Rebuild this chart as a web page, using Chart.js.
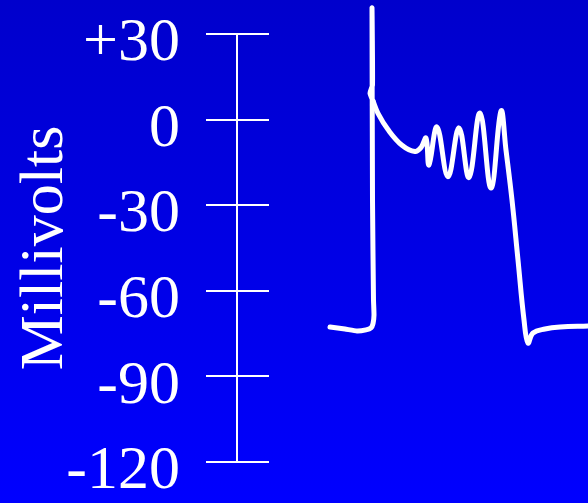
<!DOCTYPE html>
<html>
<head>
<meta charset="utf-8">
<script src="https://cdn.jsdelivr.net/npm/chart.js@4/dist/chart.umd.min.js"></script>
<style>
  html, body { margin: 0; padding: 0; }
  body { width: 588px; height: 503px; background: linear-gradient(#0000cc, #0000ff); overflow: hidden; }
  canvas { display: block; }
</style>
</head>
<body>
<canvas id="ap" width="588" height="503"></canvas>
<script>
// action potential with early afterdepolarizations (time in ms, membrane potential in mV)
// upstroke part, drawn with straight segments
const upTimeMs = [-84, -54, -30, -12, -2, 2, 4, 3, 1, 0, 1, -4, 2];
const upMv = [-72.7, -73.4, -74.1, -73.7, -73.0, -71.5, -68.5, -63.2, -28.2, 39.1, 12.1, 9.3, 6.5];
// plateau with oscillations and repolarization, drawn smoothed
const plateauTimeMs = [2, 12, 32, 60, 86, 98, 108, 114, 130, 152, 174, 194, 216, 238, 258, 268, 280, 292, 304, 312, 322, 346, 376, 432];
const plateauMv = [6.5, 2.2, -3.5, -9.0, -11.2, -9.8, -6.5, -15.9, -2.6, -20.0, -2.9, -20.3, 2.3, -24.0, 3.0, -10.7, -28.2, -49.2, -70.2, -78.3, -74.8, -73.4, -72.7, -72.3];

const yTicks = [30, 0, -30, -60, -90, -120];
const tickLabels = ['+30', '0', '-30', '-60', '-90', '-120'];
const axisTitle = 'Millivolts';

const toPoints = (xs, ys) => xs.map((t, i) => ({ x: t, y: ys[i] }));

// tick marks that cross the axis line on both sides
const crossTicks = {
  id: 'crossTicks',
  afterDraw(chart) {
    const scale = chart.scales.y;
    const ctx = chart.ctx;
    const x0 = scale.right;
    ctx.save();
    ctx.strokeStyle = '#ffffff';
    ctx.lineWidth = 2;
    yTicks.forEach(v => {
      const y = Math.round(scale.getPixelForValue(v));
      ctx.beginPath();
      ctx.moveTo(x0 - 31, y);
      ctx.lineTo(x0 + 32, y);
      ctx.stroke();
    });
    ctx.restore();
  }
};

const lineStyle = {
  showLine: true,
  borderColor: '#ffffff',
  borderWidth: 5,
  borderCapStyle: 'round',
  borderJoinStyle: 'round',
  pointRadius: 0,
  clip: false
};

new Chart(document.getElementById('ap').getContext('2d'), {
  type: 'scatter',
  data: {
    datasets: [
      { ...lineStyle, data: toPoints(upTimeMs, upMv), tension: 0.15 },
      { ...lineStyle, data: toPoints(plateauTimeMs, plateauMv), tension: 0.4 }
    ]
  },
  options: {
    responsive: false,
    animation: false,
    layout: { padding: { top: 34, bottom: 41, left: 0, right: 0 } },
    plugins: { legend: { display: false }, tooltip: { enabled: false } },
    scales: {
      x: { type: 'linear', display: false, min: -270, max: 432 },
      y: {
        type: 'linear',
        min: -120,
        max: 30,
        afterBuildTicks(scale) {
          scale.ticks = yTicks.map(v => ({ value: v }));
        },
        afterFit(scale) {
          scale.width = 237;
          // big labels would otherwise push the plot area in
          scale.paddingTop = 0;
          scale.paddingBottom = 0;
        },
        grid: { display: false, drawTicks: false },
        border: { display: true, color: '#ffffff', width: 2 },
        ticks: {
          color: '#ffffff',
          padding: 57,
          labelOffset: 10,
          font: { family: '"Liberation Serif", "Times New Roman", serif', size: 62 },
          callback: (v) => tickLabels[yTicks.indexOf(v)]
        },
        title: {
          display: true,
          text: axisTitle,
          color: '#ffffff',
          padding: { top: 9, bottom: 0 },
          font: { family: '"Liberation Serif", "Times New Roman", serif', size: 62 }
        }
      }
    }
  },
  plugins: [crossTicks]
});
</script>
</body>
</html>
